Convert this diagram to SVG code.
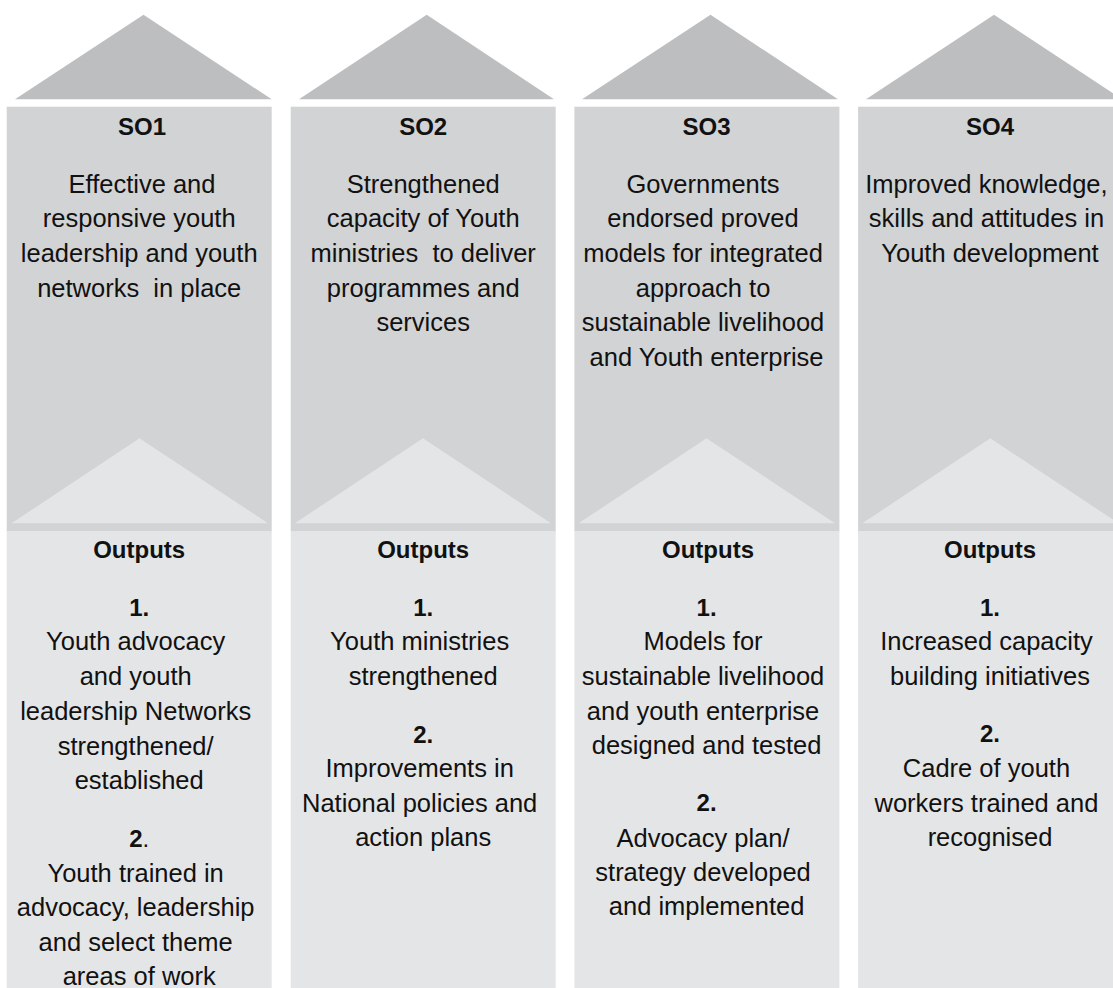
<svg xmlns="http://www.w3.org/2000/svg" width="1113" height="988" viewBox="0 0 1113 988">
  <style>
    .roof { fill: #bcbec0; }
    .upper { fill: #d1d3d4; }
    .lower { fill: #e4e5e6; }
    .gable { fill: #e4e5e6; }
    text { font-family: "Liberation Sans", Arial, sans-serif; fill: #111111; text-anchor: middle; }
    .hd { font-size: 24px; font-weight: bold; }
    .tx { font-size: 25.5px; }
    .num { font-size: 24px; font-weight: bold; }
  </style>
  <rect width="1113" height="988" fill="#ffffff"/>

  <!-- Column 1: SO1 -->
  <g id="so1">
    <polygon class="roof" points="15,99.3 143.5,14.7 271.7,99.3"/>
    <rect class="upper" x="6.7" y="106.7" width="265" height="425"/>
    <rect class="lower" x="6.7" y="531" width="265" height="457"/>
    <polygon class="gable" points="11.5,523.3 139.5,438.3 268,523.3"/>
    <text class="hd" x="142" y="135">SO1</text>
    <text class="tx" xml:space="preserve"><tspan x="142" y="192.7">Effective and</tspan><tspan x="139.2" y="227.3">responsive youth</tspan><tspan x="139.2" y="262">leadership and youth</tspan><tspan x="139.2" y="296.5">networks  in place</tspan></text>
    <text class="hd" x="139.2" y="558.3">Outputs</text>
    <text class="num" x="139.2" y="615.7">1.</text>
    <text class="tx">
      <tspan x="139.2" y="650">Youth advocacy</tspan>
      <tspan x="139.2" y="685">and youth</tspan>
      <tspan x="139.2" y="720">leadership Networks</tspan>
      <tspan x="139.2" y="755">strengthened/</tspan>
      <tspan x="139.2" y="789.3">established</tspan>
    </text>
    <text class="num" x="139.2" y="846.7">2<tspan font-weight="normal">.</tspan></text>
    <text class="tx">
      <tspan x="139.2" y="881.7">Youth trained in</tspan>
      <tspan x="139.2" y="916">advocacy, leadership</tspan>
      <tspan x="139.2" y="950.5">and select theme</tspan>
      <tspan x="139.2" y="985">areas of work</tspan>
    </text>
  </g>

  <!-- Column 2: SO2 -->
  <g id="so2">
    <polygon class="roof" points="299,99.3 426.7,14.7 554,99.3"/>
    <rect class="upper" x="290.7" y="106.7" width="265" height="425"/>
    <rect class="lower" x="290.7" y="531" width="265" height="457"/>
    <polygon class="gable" points="294.7,523.3 423,438.3 551,523.3"/>
    <text class="hd" x="423.2" y="135">SO2</text>
    <text class="tx" xml:space="preserve"><tspan x="423.2" y="192.7">Strengthened</tspan><tspan x="423.2" y="227.3">capacity of Youth</tspan><tspan x="423.2" y="262">ministries  to deliver</tspan><tspan x="423.2" y="296.5">programmes and</tspan><tspan x="423.2" y="331">services</tspan></text>
    <text class="hd" x="423.2" y="558.3">Outputs</text>
    <text class="num" x="423.2" y="615.7">1.</text>
    <text class="tx">
      <tspan x="423.2" y="650">Youth ministries</tspan>
      <tspan x="423.2" y="685">strengthened</tspan>
    </text>
    <text class="num" x="423.2" y="742.7">2.</text>
    <text class="tx">
      <tspan x="423.2" y="777.3">Improvements in</tspan>
      <tspan x="423.2" y="811.5">National policies and</tspan>
      <tspan x="423.2" y="846">action plans</tspan>
    </text>
  </g>

  <!-- Column 3: SO3 -->
  <g id="so3">
    <polygon class="roof" points="582,99.3 710.5,14.7 838,99.3"/>
    <rect class="upper" x="574.4" y="106.7" width="265" height="425"/>
    <rect class="lower" x="574.4" y="531" width="265" height="457"/>
    <polygon class="gable" points="578.6,523.3 706.5,438.3 835,523.3"/>
    <text class="hd" x="706.6" y="135">SO3</text>
    <text class="tx">
      <tspan x="706.6" y="192.7">Governments</tspan>
      <tspan x="706.6" y="227.3">endorsed proved</tspan>
      <tspan x="706.6" y="262">models for integrated</tspan>
      <tspan x="706.6" y="296.5">approach to</tspan>
      <tspan x="706.6" y="331">sustainable livelihood</tspan>
      <tspan x="706.6" y="365.5">and Youth enterprise</tspan>
    </text>
    <text class="hd" x="708" y="558.3">Outputs</text>
    <text class="num" x="706.6" y="615.7">1.</text>
    <text class="tx">
      <tspan x="706.6" y="650">Models for</tspan>
      <tspan x="706.6" y="685">sustainable livelihood</tspan>
      <tspan x="706.6" y="720">and youth enterprise</tspan>
      <tspan x="706.6" y="754.3">designed and tested</tspan>
    </text>
    <text class="num" x="706.6" y="811">2.</text>
    <text class="tx">
      <tspan x="706.6" y="846.7">Advocacy plan/</tspan>
      <tspan x="706.6" y="880.7">strategy developed</tspan>
      <tspan x="706.6" y="915">and implemented</tspan>
    </text>
  </g>

  <!-- Column 4: SO4 (runs past the right edge) -->
  <g id="so4">
    <polygon class="roof" points="866,99.3 994,14.7 1122,99.3"/>
    <rect class="upper" x="858.1" y="106.7" width="265" height="425"/>
    <rect class="lower" x="858.1" y="531" width="265" height="457"/>
    <polygon class="gable" points="862.3,523.3 990.3,438.3 1118.6,523.3"/>
    <text class="hd" x="990" y="135">SO4</text>
    <text class="tx">
      <tspan x="990" y="192.7">Improved knowledge,</tspan>
      <tspan x="990" y="227.3">skills and attitudes in</tspan>
      <tspan x="990" y="262">Youth development</tspan>
    </text>
    <text class="hd" x="990" y="558.3">Outputs</text>
    <text class="num" x="990" y="615.7">1.</text>
    <text class="tx">
      <tspan x="990" y="650">Increased capacity</tspan>
      <tspan x="990" y="685">building initiatives</tspan>
    </text>
    <text class="num" x="990" y="742.3">2.</text>
    <text class="tx">
      <tspan x="990" y="777.3">Cadre of youth</tspan>
      <tspan x="990" y="811.7">workers trained and</tspan>
      <tspan x="990" y="846">recognised</tspan>
    </text>
  </g>

  <!-- no connectors between the columns -->
  <g id="connectors"/>
</svg>
